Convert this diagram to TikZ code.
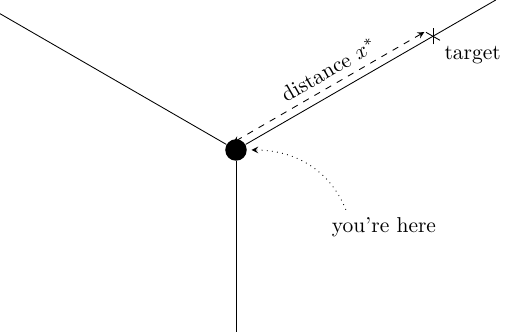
\documentclass[tikz,border=0pt]{standalone}
\usepackage{amsmath}
\usepackage{tikz}

\begin{document}
\begin{tikzpicture}[x=0.465pt,y=0.465pt,>=stealth]
  \useasboundingbox (0,0) rectangle (505,332);
  % the three roads
  \node[circle,fill,inner sep=0pt,minimum size=10] (here) at (236,182) {};
  \coordinate (west) at (0,318.3);
  \coordinate (east) at (495.8,332);
  \coordinate (south) at (236,0);
  \draw (here) -- (west);
  \draw (here) -- (east);
  \draw (here) -- (south);
  % target mark
  \coordinate (target) at (433,295.7);
  \draw (target) ++(0,-8) -- ++(0,16);
  \draw (target) ++(-7,4) -- ++(14,-8);
  \node[anchor=north west] (tlabel) at ([shift={(4,-2)}]target) {target};
  % distance
  \coordinate (d0) at (232.9,189.4);
  \coordinate (d1) at (424.3,299.9);
  \draw[<->,dashed] (d1) -- node[pos=0.46,above,sloped] (dist) {distance $x^*$} (d0);
  % you are here
  \node (you) at (384,105) {you're here};
  \draw[->,dotted,shorten >=2pt] ([xshift=10pt]you.north west) to[out=112,in=0] (here.east);
\end{tikzpicture}
\end{document}
